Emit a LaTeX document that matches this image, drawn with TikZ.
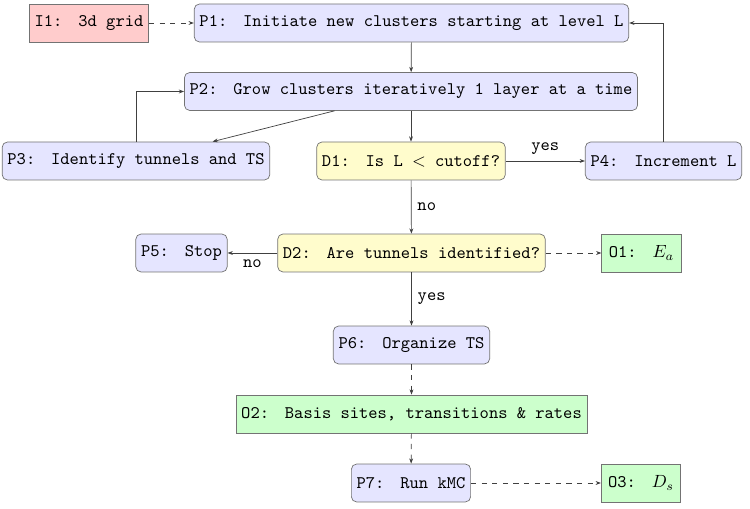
\documentclass[tikz,border=0pt]{standalone}
\usetikzlibrary{arrows.meta}
\begin{document}
\begin{tikzpicture}[x=0.566pt,y=-0.566pt,
  box/.style={draw=black!55, font=\ttfamily, minimum height=21.5pt, inner xsep=3pt, inner ysep=0pt, anchor=center},
  proc/.style={box, rounded corners=3pt, fill=blue!10},
  dec/.style={box, rounded corners=3pt, fill=yellow!20},
  inp/.style={box, fill=red!20},
  outp/.style={box, fill=green!20},
  conn/.style={draw=black!75, line width=0.4pt, -{Stealth[length=3pt,width=2.2pt]}},
  dconn/.style={conn, dashed},
  lab/.style={font=\ttfamily, text=black}]
\useasboundingbox (0,0) rectangle (750,509);
\newcommand{\gp}{\hspace{9pt}}
\node[inp]  (I1) at (89,23)    {I1:\gp 3d grid};
\node[proc] (P1) at (411.5,23) {P1:\gp Initiate new clusters starting at level L};
\node[proc] (P2) at (411,91.5) {P2:\gp Grow clusters iteratively 1 layer at a time};
\node[proc] (P3) at (136,161)  {P3:\gp Identify tunnels and TS};
\node[dec]  (D1) at (411,161)  {D1:\gp Is L $<$ cutoff?};
\node[proc] (P4) at (663.5,161) {P4:\gp Increment L};
\node[dec]  (D2) at (411.5,253) {D2:\gp Are tunnels identified?};
\node[proc] (P5) at (181.5,253) {P5:\gp Stop};
\node[outp, minimum width=45pt] (O1) at (641.5,253)  {O1:\gp $E_a$};
\node[proc] (P6) at (411.5,345) {P6:\gp Organize TS};
\node[outp] (O2) at (411.5,414) {O2:\gp Basis sites, transitions \& rates};
\node[proc] (P7) at (411,483)  {P7:\gp Run kMC};
\node[outp, minimum width=45pt] (O3) at (641,483)  {O3:\gp $D_s$};

\draw[dconn] (I1) -- (P1);
\draw[conn] (P1) -- (P2);
\draw[conn] (P2) -- (D1);
\draw[conn] (P2) -- (P3);
\draw[conn] (P3.north) |- (P2.west);
\draw[conn] (D1) -- node[lab,above]{yes} (P4);
\draw[conn] (P4.north) |- (P1.east);
\draw[conn] (D1) -- node[lab,right]{no} (D2);
\draw[conn] (D2) -- node[lab,below]{no} (P5);
\draw[dconn] (D2) -- (O1);
\draw[conn] (D2) -- node[lab,right]{yes} (P6);
\draw[dconn] (P6) -- (O2);
\draw[dconn] (O2) -- (P7);
\draw[dconn] (P7) -- (O3);
\end{tikzpicture}
\end{document}
